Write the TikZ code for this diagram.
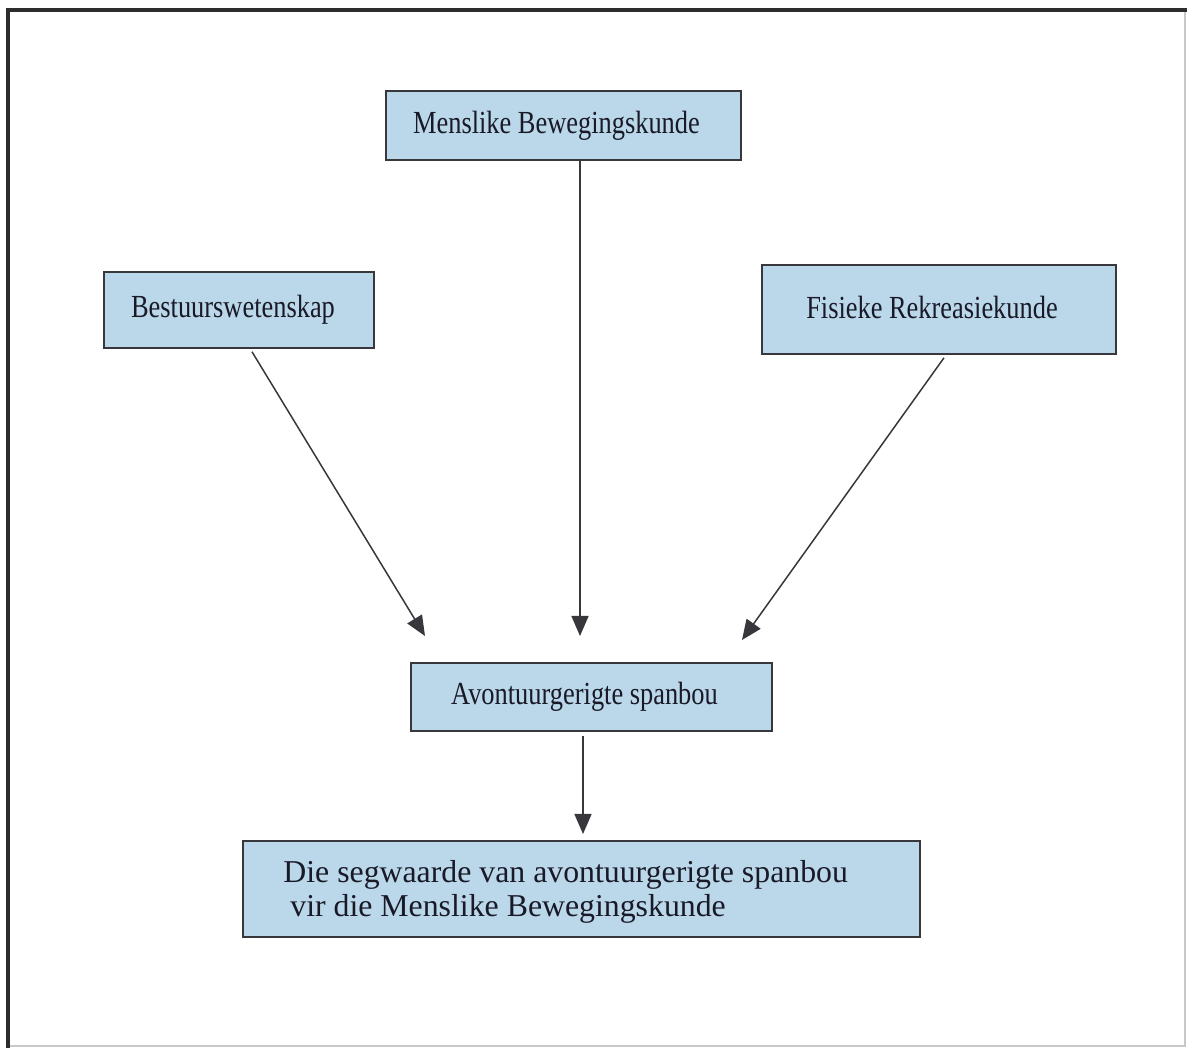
\documentclass[tikz,border=0pt]{standalone}
\usepackage{fontspec}
\setmainfont{Liberation Serif}
% narrow cut of the serif face for the one-line boxes
\newfontfamily\narrowserif[FakeStretch=0.82]{Liberation Serif}
\usetikzlibrary{arrows.meta,calc}
\definecolor{boxfill}{RGB}{186,216,233}
\definecolor{boxline}{RGB}{55,55,60}
\definecolor{inkc}{RGB}{25,25,40}
\definecolor{framedark}{RGB}{45,45,45}
\definecolor{framelight}{RGB}{200,200,200}
\begin{document}
\begin{tikzpicture}[x=0.5pt,y=-0.5pt,
  topicbox/.style={draw=boxline, line width=0.8pt, fill=boxfill, text=inkc,
    font=\narrowserif\fontsize{16.1}{18}\selectfont, inner sep=0pt, anchor=center},
  flow/.style={draw=boxline, line width=0.75pt,
    -{Triangle[length=10pt,width=8.5pt]}}]
  \useasboundingbox (0,0) rectangle (1189,1052);

  % page frame: heavy top and left rules, faint right and bottom
  \draw[framelight, line width=0.8pt] (1185,10) -- (1185,1046) -- (8,1046);
  \draw[framedark, line width=2.2pt, line cap=rect] (8,1046) -- (8,10) -- (1185,10);

  % boxes
  \node[topicbox, minimum width=177.5pt, minimum height=34.5pt] (mb) at (563.5,125.5)
    {\raisebox{1pt}{Menslike Bewegingskunde}\kern7pt};
  \node[topicbox, minimum width=135pt, minimum height=38pt] (bw) at (239,310)
    {\raisebox{1pt}{Bestuurswetenskap}\kern6pt};
  \node[topicbox, minimum width=177pt, minimum height=44.5pt] (fr) at (939,309.5)
    {\raisebox{2pt}{Fisieke Rekreasiekunde}\kern7pt};
  \node[topicbox, minimum width=180.5pt, minimum height=34pt] (as) at (591.5,697)
    {\raisebox{1pt}{Avontuurgerigte spanbou}\kern7pt};
  \node[topicbox, minimum width=338.5pt, minimum height=48pt] (sw) at (581.5,889) {};
  \node[text=inkc, font=\fontsize{15.9}{17}\selectfont, align=left, anchor=west,
    inner sep=0pt] (swtext) at (283,892)
    {Die segwaarde van avontuurgerigte spanbou\\\hspace*{3.5pt}vir die Menslike Bewegingskunde};

  % arrow end points, short of the target box
  \coordinate (tipmb) at (580,636);
  \coordinate (tipbw) at (425,636);
  \coordinate (tipfr) at (742,640);
  \coordinate (tipas) at (583,834);

  % connectors
  \draw[flow] (mb.south -| tipmb) -- (tipmb);
  \draw[flow] ($(bw.south)+(13,3)$) -- (tipbw);
  \draw[flow] ($(fr.south)+(5,3)$) -- (tipfr);
  \draw[flow] ($(as.south -| tipas)+(0,4)$) -- (tipas);
\end{tikzpicture}
\end{document}
